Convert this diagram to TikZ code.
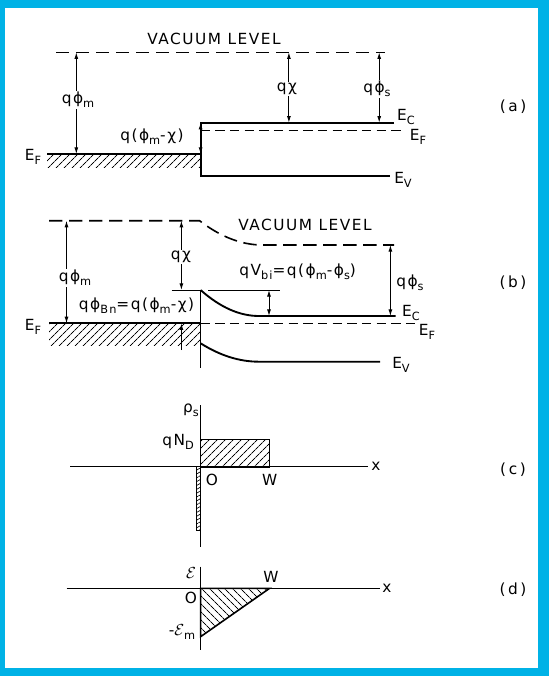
\documentclass[tikz,border=0pt]{standalone}
\usepackage{fontspec}
\setmainfont{DejaVu Sans}
\newfontfamily\lettering[LetterSpace=10]{DejaVu Sans}
\newcommand\lowsub[1]{\raisebox{-0.45ex}{\fontsize{8.5}{10}\selectfont #1}}
\definecolor{framecyan}{RGB}{0,178,230}
\usetikzlibrary{arrows.meta,patterns.meta}

\begin{document}
\begin{tikzpicture}[x=0.75pt,y=-0.75pt,
  lbl/.style={font=\lettering\fontsize{11.5}{13}\selectfont, inner sep=1pt},
  gap/.style={lbl, fill=white},
  level/.style={line width=1.4pt},
  vac/.style={line width=1.2pt, dash pattern=on 10pt off 5pt},
  fermi/.style={line width=0.9pt, dash pattern=on 7pt off 4pt},
  dim/.style={line width=0.7pt, {Latex[length=5pt,width=3pt]}-{Latex[length=5pt,width=3pt]}},
  onedim/.style={line width=0.7pt, -{Latex[length=5pt,width=3pt]}},
  axis/.style={line width=0.9pt},
  hatchne/.style={pattern={Lines[angle=45,distance=4pt,line width=0.7pt]}},
  hatchnw/.style={pattern={Lines[angle=-45,distance=4pt,line width=0.7pt]}},
]
  % frame
  \fill[framecyan] (0,0) rectangle (549,676);
  \fill[white] (5,8) rectangle (538,668);
  \useasboundingbox (0,0) rectangle (549,676);

  % ---------- (a) thermal non-equilibrium
  \coordinate (a-vacL) at (56,52.3);
  \coordinate (a-vacR) at (385,52.3);
  \coordinate (a-mL) at (47,154);
  \coordinate (a-mR) at (200.6,154);
  \coordinate (a-ecL) at (200.6,122.7);
  \coordinate (a-ecR) at (394,122.7);
  \coordinate (a-evL) at (200.6,175.7);
  \coordinate (a-evR) at (390,175.7);
  \draw[vac] (a-vacL) -- (a-vacR);
  \node[lbl] (a-vactxt) at (214,39) {VACUUM LEVEL};
  \fill[hatchne] (a-mL) rectangle (200.6,167);
  \draw[level] (a-mL) -- (a-mR);
  \draw[level] (a-ecR) -- (a-ecL) -- (a-evL) -- (a-evR);
  \draw[fermi] (200.6,130.7) -- (404,130.7);
  \draw[dim] (76.3,52.3) -- (76.3,154);
  \node[gap] (a-phim) at (78,100) {qϕ\lowsub{m}};
  \draw[dim] (288.9,52.3) -- (288.9,122.7);
  \node[gap] (a-chi) at (287,89) {qχ};
  \draw[dim] (379.2,52.3) -- (379.2,122.7);
  \node[gap] (a-phis) at (377,89) {qϕ\lowsub{s}};
  \draw[dim] (a-ecL) -- (a-mR);
  \node[lbl] (a-bar) at (152,137) {q(ϕ\lowsub{m}-χ)};
  \node[lbl] (a-ec) at (406,117) {E\lowsub{C}};
  \node[lbl] (a-efs) at (418,137) {E\lowsub{F}};
  \node[lbl] (a-ev) at (403,180) {E\lowsub{V}};
  \node[lbl] (a-efm) at (33,157) {E\lowsub{F}};
  \node[lbl] (a-tag) at (513,107) {(\,a\,)};

  % ---------- (b) thermal equilibrium
  \coordinate (b-mL) at (49,323.3);
  \coordinate (b-mR) at (200.6,323.3);
  \coordinate (b-top) at (200.6,290);
  \coordinate (b-bot) at (200.6,368.3);
  \coordinate (b-ev0) at (200.6,343.3);
  \draw[vac] (49,220.7) -- (199.6,220.7)
    .. controls (220.6,236.9) and (241.6,245) .. (262.6,245) -- (394,245);
  \node[lbl] (b-vactxt) at (305,225) {VACUUM LEVEL};
  \fill[hatchne] (b-mL) rectangle (200.6,345);
  \draw[level] (b-mL) -- (b-mR);
  \draw[line width=1pt] (b-top) -- (b-bot);
  \draw[level] (b-top) .. controls (220.1,307.3) and (239.5,316) .. (259,316) -- (395.6,316);
  \draw[level] (b-ev0) .. controls (220.1,355.6) and (239.5,361.7) .. (259,361.7) -- (380,361.7);
  \draw[fermi] (b-mR) -- (416.7,323.3);
  \draw[line width=0.6pt] (171.6,290) -- (199.6,290);
  \draw[line width=0.6pt] (208,290) -- (280,290);
  \draw[dim] (66.5,220.7) -- (66.5,323.3);
  \node[gap] (b-phim) at (75,278) {qϕ\lowsub{m}};
  \draw[dim] (181.4,220.7) -- (181.4,290);
  \node[gap] (b-chi) at (181,257) {qχ};
  \draw[onedim] (181.4,350) -- (181.4,323.3);
  \node[lbl] (b-bar) at (136.6,306) {qϕ\lowsub{Bn}=q(ϕ\lowsub{m}-χ)};
  \draw[dim] (269,290) -- (269,316);
  \node[lbl] (b-vbi) at (297.6,271.7) {qV\lowsub{bi}=q(ϕ\lowsub{m}-ϕ\lowsub{s})};
  \draw[dim] (390.4,245) -- (390.4,316);
  \node[lbl] (b-phis) at (410,283) {qϕ\lowsub{s}};
  \node[lbl] (b-ec) at (411,313) {E\lowsub{C}};
  \node[lbl] (b-efs) at (427,332) {E\lowsub{F}};
  \node[lbl] (b-ev) at (401,365) {E\lowsub{V}};
  \node[lbl] (b-efm) at (33,327) {E\lowsub{F}};
  \node[lbl] (b-tag) at (513,283) {(\,b\,)};

  % ---------- (c) charge distribution
  \draw[axis] (200.6,405) -- (200.6,546.7);
  \draw[axis] (70,466.7) -- (367.6,466.7);
  \draw[line width=1.2pt, hatchne] (200.6,466.7) rectangle (269.6,439.3);
  \draw[line width=0.6pt, pattern={Lines[angle=30,distance=2.5pt,line width=0.5pt]}]
    (196.4,466.7) rectangle (200.6,530);
  \node[lbl] (c-rho) at (191,410) {ρ\lowsub{s}};
  \node[lbl] (c-nd) at (178,442) {qN\lowsub{D}};
  \node[lbl] (c-o) at (212,480) {O};
  \node[lbl] (c-w) at (269.6,480) {W};
  \node[lbl] (c-x) at (376,466.7) {x};
  \node[lbl] (c-tag) at (513,470) {(\,c\,)};

  % ---------- (d) field distribution
  \draw[axis] (200.6,566.7) -- (200.6,650);
  \draw[axis] (66.5,588.3) -- (380,588.3);
  \draw[line width=1.2pt, hatchnw] (200.6,588.3) -- (269.6,588.3) -- (200.6,636.7) -- cycle;
  \node[lbl] (d-e) at (191,573) {$\mathcal{E}$};
  \node[lbl] (d-w) at (271,577) {W};
  \node[lbl] (d-o) at (191,598) {O};
  \node[lbl] (d-em) at (182,632) {-$\mathcal{E}$\lowsub{m}};
  \node[lbl] (d-x) at (387,588.3) {x};
  \node[lbl] (d-tag) at (513,590) {(\,d\,)};
\end{tikzpicture}
\end{document}
